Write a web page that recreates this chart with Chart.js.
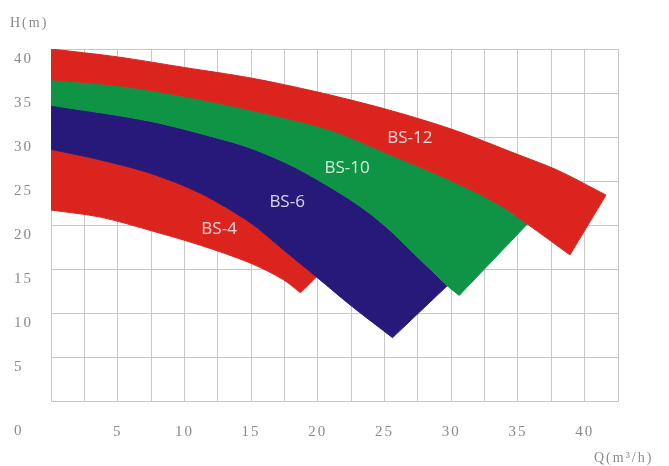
<!DOCTYPE html>
<html>
<head>
<meta charset="utf-8">
<script src="https://cdn.jsdelivr.net/npm/chart.js@4"></script>
<style>
    html, body { margin: 0; padding: 0; background: #fff; }
</style>
</head>
<body>
<canvas id="pumpChart" width="669" height="466"></canvas>
<script>
// Curve edges (Q in m3/h, H in m)
// BS-12 upper edge
const edgeA_Q = [0, 5, 10, 15, 20, 25, 30, 35, 38, 41.6];
const edgeA_H = [40, 39.1, 37.9, 36.7, 35.1, 33.2, 30.9, 28.0, 26.2, 23.4];
// BS-12 lower edge / BS-10 upper edge
const edgeB_Q = [0, 5.2, 10.4, 15.7, 20.9, 25.4, 29.9, 33.6, 35.7, 38.9];
const edgeB_H = [36.5, 35.8, 34.5, 32.8, 30.8, 28.0, 25.1, 22.3, 20.1, 16.6];
// BS-10 lower edge / BS-6 upper edge (last point is the BS-10 tip)
const edgeC_Q = [0, 7.4, 13.6, 15.7, 18.1, 20.7, 22.3, 23.9, 25.4, 26.9, 28.4, 29.7, 30.6];
const edgeC_H = [33.6, 31.8, 29.4, 28.3, 26.7, 24.5, 23.0, 21.3, 19.4, 17.2, 15.0, 13.1, 12.0];
// BS-6 lower edge / BS-4 upper edge (BS-4 stops at Q 19.9)
const edgeD_Q = [0, 3.7, 7.4, 11.2, 14.9, 17.4, 19.9, 22.6, 25.6];
const edgeD_H = [28.6, 27.4, 25.9, 23.6, 20.3, 17.2, 14.1, 10.7, 7.2];
// BS-4 lower edge
const edgeE_Q = [0, 3.7, 7.4, 11.2, 14.9, 17.4, 18.7];
const edgeE_H = [21.7, 20.9, 19.4, 17.7, 15.7, 13.8, 12.3];

const bandNames = ['BS-12', 'BS-10', 'BS-6', 'BS-4'];
const bandColors = ['#dc241f', '#0e9444', '#27197a', '#dc241f'];
const labelQ = [26.9, 22.2, 17.7, 12.6];
const labelH = [29.9, 26.5, 22.6, 19.5];

const yTicks = [5, 10, 15, 20, 25, 30, 35, 40];
const xTicks = [5, 10, 15, 20, 25, 30, 35, 40];

function pts(qs, hs, from, to) {
    const out = [];
    for (let i = from; i <= to; i++) out.push({ x: qs[i], y: hs[i] });
    return out;
}

// closed outline: upper edge left->right, then lower edge right->left.
// the two tip points are repeated so the curve keeps sharp corners there
function band(upper, lower) {
    const back = lower.slice().reverse();
    return upper.concat([upper[upper.length - 1], back[0]], back);
}

const shapes = [
    band(pts(edgeA_Q, edgeA_H, 0, 9), pts(edgeB_Q, edgeB_H, 0, 9)),
    band(pts(edgeB_Q, edgeB_H, 0, 8), pts(edgeC_Q, edgeC_H, 0, 12)),
    band(pts(edgeC_Q, edgeC_H, 0, 11), pts(edgeD_Q, edgeD_H, 0, 8)),
    band(pts(edgeD_Q, edgeD_H, 0, 6), pts(edgeE_Q, edgeE_H, 0, 6))
];

const textPlugin = {
    id: 'texts',
    beforeDraw(chart) {
        chart.ctx.letterSpacing = '2px';
    },
    beforeDatasetsDraw(chart) {
        chart.ctx.letterSpacing = '0px';
    },
    afterDatasetsDraw(chart) {
        const { ctx, scales: { x, y } } = chart;
        ctx.save();
        ctx.font = '17px "Open Sans"';
        ctx.fillStyle = 'rgba(255,255,255,0.82)';
        ctx.textAlign = 'center';
        ctx.textBaseline = 'middle';
        bandNames.forEach((name, i) => {
            ctx.fillText(name, x.getPixelForValue(labelQ[i]), y.getPixelForValue(labelH[i]));
        });

        ctx.letterSpacing = '2px';
        ctx.fillStyle = '#8a8a8a';
        ctx.textAlign = 'left';
        ctx.font = '15px "Liberation Serif"';
        ctx.fillText('0', 14, 431);
        ctx.font = '14px "Liberation Serif"';
        ctx.fillText('H(m)', 10, 23);
        ctx.fillText('Q(m³/h)', 594, 458);
        ctx.restore();
    }
};

const ctx = document.getElementById('pumpChart').getContext('2d');

new Chart(ctx, {
    type: 'line',
    data: {
        datasets: shapes.map((shape, i) => ({
            label: bandNames[i],
            data: shape,
            fill: 'shape',
            backgroundColor: bandColors[i],
            borderColor: bandColors[i],
            borderWidth: 1,
            pointRadius: 0,
            tension: 0.3
        }))
    },
    options: {
        responsive: false,
        animation: false,
        layout: { padding: { left: 14, top: 49, right: 51, bottom: 0 } },
        plugins: {
            legend: { display: false },
            tooltip: { enabled: false }
        },
        scales: {
            x: {
                type: 'linear',
                min: 0,
                max: 42.5,
                afterFit: s => { s.height = 65; },
                ticks: {
                    stepSize: 2.5,
                    autoSkip: false,
                    maxRotation: 0,
                    padding: 22,
                    color: '#8a8a8a',
                    font: { family: 'Liberation Serif', size: 15 },
                    callback: v => xTicks.includes(v) ? String(v) : ''
                },
                grid: { color: '#c8c8c8', drawTicks: false },
                border: { color: '#c8c8c8' }
            },
            y: {
                min: 0,
                max: 40,
                afterFit: s => { s.width = 37; },
                ticks: {
                    stepSize: 5,
                    crossAlign: 'far',
                    labelOffset: 10,
                    color: '#8a8a8a',
                    font: { family: 'Liberation Serif', size: 15 },
                    callback: v => yTicks.includes(v) ? String(v) : ''
                },
                grid: { color: '#c8c8c8', drawTicks: false },
                border: { color: '#c8c8c8' }
            }
        }
    },
    plugins: [textPlugin]
});
</script>
</body>
</html>
